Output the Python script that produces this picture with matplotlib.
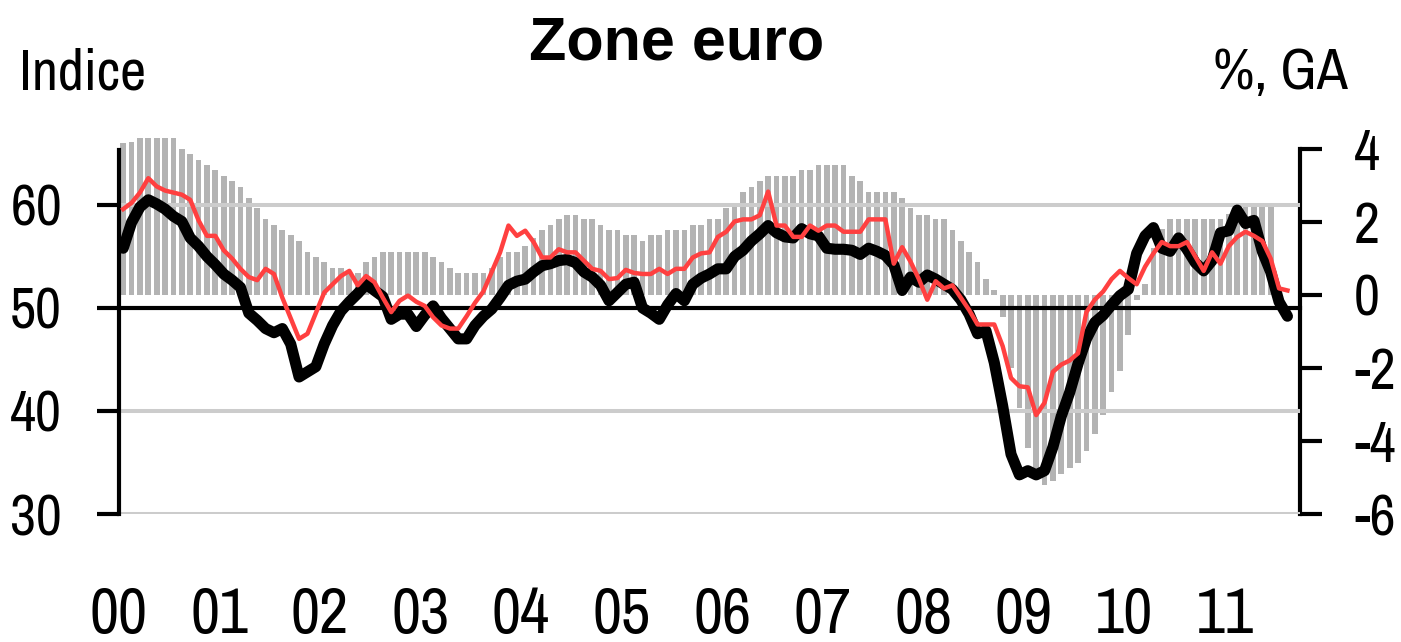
import matplotlib
matplotlib.use('Agg')
import matplotlib.pyplot as plt
from matplotlib import font_manager
import numpy as np

# ---------------- data ----------------
years = ['00', '01', '02', '03', '04', '05', '06', '07', '08', '09', '10', '11']

# monthly index (left axis), Jan 2000 - Aug 2011
pmi_black = [55.8, 58.3, 59.8, 60.5, 60.1, 59.6, 58.9, 58.4, 56.8, 56.0, 55.0, 54.2,
             53.3, 52.7, 52.0, 49.5, 48.8, 48.0, 47.6, 48.0, 46.5, 43.3, 43.8, 44.3,
             46.5, 48.3, 49.7, 50.6, 51.4, 52.3, 51.7, 51.1, 48.9, 49.4, 49.4, 48.2,
             49.3, 50.2, 49.0, 48.0, 47.0, 47.0, 48.3, 49.2, 49.9, 51.0, 52.2, 52.6,
             52.8, 53.5, 54.1, 54.3, 54.6, 54.7, 54.4, 53.5, 53.0, 52.2, 50.7, 51.5,
             52.3, 52.5, 50.0, 49.5, 48.9, 50.3, 51.4, 50.7, 52.3, 52.9, 53.3, 53.8,
             53.8, 55.0, 55.6, 56.5, 57.2, 58.0, 57.3, 56.9, 56.8, 57.7, 57.2, 57.0,
             55.8, 55.7, 55.7, 55.6, 55.2, 55.8, 55.5, 55.1, 54.2, 51.7, 53.0, 52.5,
             53.2, 52.8, 52.3, 51.8, 50.8, 49.4, 47.5, 47.8, 44.7, 40.5, 35.8, 33.8,
             34.2, 33.8, 34.2, 36.5, 39.5, 41.8, 44.6, 47.0, 48.6, 49.3, 50.3, 51.2,
             51.8, 55.3, 57.0, 57.8, 55.8, 55.5, 56.8, 55.7, 54.4, 53.6, 54.6, 57.3,
             57.5, 59.5, 58.2, 58.5, 55.5, 53.5, 50.6, 49.2]

pmi_red = [59.6, 60.2, 61.2, 62.6, 61.8, 61.4, 61.2, 61.0, 60.5, 58.5, 57.0, 57.0,
           55.6, 54.8, 53.8, 53.0, 52.7, 53.8, 53.3, 51.0, 49.0, 47.0, 47.5, 49.5,
           51.5, 52.3, 53.1, 53.6, 52.2, 53.1, 52.5, 51.0, 49.6, 50.7, 51.2, 50.6,
           50.2, 49.1, 48.3, 48.0, 48.0, 49.2, 50.5, 51.6, 53.5, 55.4, 58.0, 57.0,
           57.5, 56.4, 54.9, 54.9, 55.7, 55.4, 55.4, 54.6, 53.8, 53.6, 52.8, 52.9,
           53.7, 53.4, 53.3, 53.3, 53.8, 53.3, 53.8, 53.8, 54.9, 55.3, 55.4, 56.9,
           57.4, 58.4, 58.6, 58.6, 59.0, 61.3, 58.0, 58.0, 56.9, 56.9, 58.0, 57.5,
           58.0, 58.0, 57.4, 57.4, 57.4, 58.6, 58.6, 58.6, 54.3, 55.9, 54.5, 52.8,
           50.8, 52.6, 51.9, 52.2, 51.0, 49.8, 48.4, 48.4, 48.4, 46.3, 43.2, 42.4,
           42.3, 39.6, 40.8, 43.8, 44.5, 44.9, 45.6, 49.6, 50.8, 51.6, 52.8, 53.6,
           52.9, 52.3, 54.0, 55.3, 56.4, 56.0, 56.0, 56.4, 55.0, 53.6, 55.4, 54.3,
           56.0, 56.9, 57.4, 57.0, 56.5, 54.8, 51.9, 51.7]

# GDP growth, % y/y (right axis), Jan 2000 - Jun 2011
gdp_ga = [4.15, 4.18, 4.29, 4.29, 4.29, 4.29, 4.29, 3.99, 3.86, 3.70, 3.55, 3.42,
          3.25, 3.13, 2.96, 2.67, 2.37, 2.08, 1.92, 1.77, 1.63, 1.48, 1.19, 1.03,
          0.89, 0.73, 0.73, 0.59, 0.59, 0.89, 1.03, 1.19, 1.19, 1.19, 1.19, 1.19,
          1.19, 1.03, 0.89, 0.73, 0.59, 0.59, 0.59, 0.59, 0.73, 1.03, 1.19, 1.19,
          1.35, 1.55, 1.78, 1.92, 2.08, 2.20, 2.20, 2.08, 2.08, 1.92, 1.77, 1.77,
          1.63, 1.63, 1.48, 1.63, 1.63, 1.77, 1.77, 1.77, 1.92, 1.92, 2.08, 2.08,
          2.37, 2.51, 2.81, 2.97, 3.13, 3.25, 3.25, 3.25, 3.25, 3.42, 3.42, 3.56,
          3.56, 3.56, 3.56, 3.25, 3.13, 2.81, 2.81, 2.81, 2.81, 2.67, 2.37, 2.20,
          2.20, 2.08, 2.08, 1.77, 1.48, 1.19, 0.89, 0.45, 0.14, -0.59, -2.0, -3.1,
          -4.18, -4.86, -5.2, -5.1, -4.9, -4.75, -4.6, -4.27, -3.8, -3.28, -2.67, -2.07,
          -1.1, -0.15, 0.3, 1.3, 1.8, 2.08, 2.08, 2.08, 2.08, 2.08, 2.08, 2.08,
          2.21, 2.51, 2.51, 2.51, 2.51, 2.51]

left_ticks = [30, 40, 50, 60]
right_ticks = [-6, -4, -2, 0, 2, 4]
grid_levels = [30, 40, 60]

# ---------------- style ----------------
names = {f.name for f in font_manager.fontManager.ttflist}
FONT = 'Liberation Sans'
for cand in ['Liberation Sans Narrow', 'Arial Narrow', 'Archivo Narrow', 'Roboto Condensed',
             'PT Sans Narrow', 'IBM Plex Sans Condensed', 'Fira Sans Condensed',
             'Sofia Sans Condensed']:
    if cand in names:
        FONT = cand
        break
plt.rcParams['font.family'] = [FONT, 'DejaVu Sans']
plt.rcParams['axes.unicode_minus'] = False

W, H = 1401, 642
fig = plt.figure(figsize=(W / 100, H / 100), dpi=100)
ax = fig.add_axes([119 / W, 1 - 514 / H, 1181 / W, (514 - 138) / H])
ax2 = ax.twinx()

n_cat = 141
# bars on the right-value axis (drawn underneath)
ax.bar(np.arange(len(gdp_ga)), gdp_ga, width=0.68, color='#b3b3b3', linewidth=0, zorder=1)
ax.set_ylim(-6, 4.3)
ax.set_xlim(-0.5, n_cat - 0.5)

# lines on the left-value axis
for lvl in grid_levels:
    ax2.axhline(lvl, color='#cccccc', lw=2.9, zorder=1)
ax2.plot(np.arange(len(pmi_black)), pmi_black, color='black', lw=8.0,
         solid_joinstyle='round', solid_capstyle='round', zorder=4)
ax2.plot(np.arange(len(pmi_red)), pmi_red, color='#ff4040', lw=3.2,
         solid_joinstyle='round', zorder=5)
ax2.set_ylim(30, 66.5)

# spines
for s in ['top', 'bottom', 'left']:
    ax.spines[s].set_visible(False)
ax.spines['right'].set_linewidth(3.0)
ax.spines['right'].set_bounds(-6, 4)
ax.spines['right'].set_capstyle('projecting')
for s in ['top', 'right']:
    ax2.spines[s].set_visible(False)
ax2.spines['left'].set_linewidth(3.0)
ax2.spines['left'].set_bounds(30, 65.3)
ax2.spines['bottom'].set_position(('data', 50))
ax2.spines['bottom'].set_linewidth(3.0)
ax2.spines['bottom'].set_zorder(3)

# y ticks
ax.yaxis.tick_right()
ax.set_yticks(right_ticks)
ax.set_yticklabels([str(v) for v in right_ticks])
ax.tick_params(axis='y', direction='out', length=16, width=3.0, pad=23, labelsize=41)
ax2.yaxis.tick_left()
ax2.set_yticks(left_ticks)
ax2.set_yticklabels([str(v) for v in left_ticks])
ax2.tick_params(axis='y', direction='out', length=16, width=3.0, pad=25, labelsize=41)

# x ticks: year boundaries on the 50 line, labels at bottom
year_pos = [12 * k - 0.5 for k in range(len(years))]
ax.set_xticks(year_pos)
ax.set_xticklabels(years)
ax.tick_params(axis='x', length=0, pad=52, labelsize=46)
ax2.tick_params(axis='x', direction='out', length=16, width=3.0, labelbottom=False)

ax2.patch.set_visible(False)

fig.text(19 / W, 1 - 89 / H, 'Indice', fontsize=41, ha='left', va='baseline')
fig.text(1348 / W, 1 - 89 / H, '%, GA', fontsize=41, ha='right', va='baseline')
fig.text(677 / W, 1 - 60 / H, 'Zone euro', fontsize=44, fontweight='bold',
         family=['Liberation Sans', 'DejaVu Sans'], ha='center', va='baseline')

fig.savefig('out.png', dpi=100)
